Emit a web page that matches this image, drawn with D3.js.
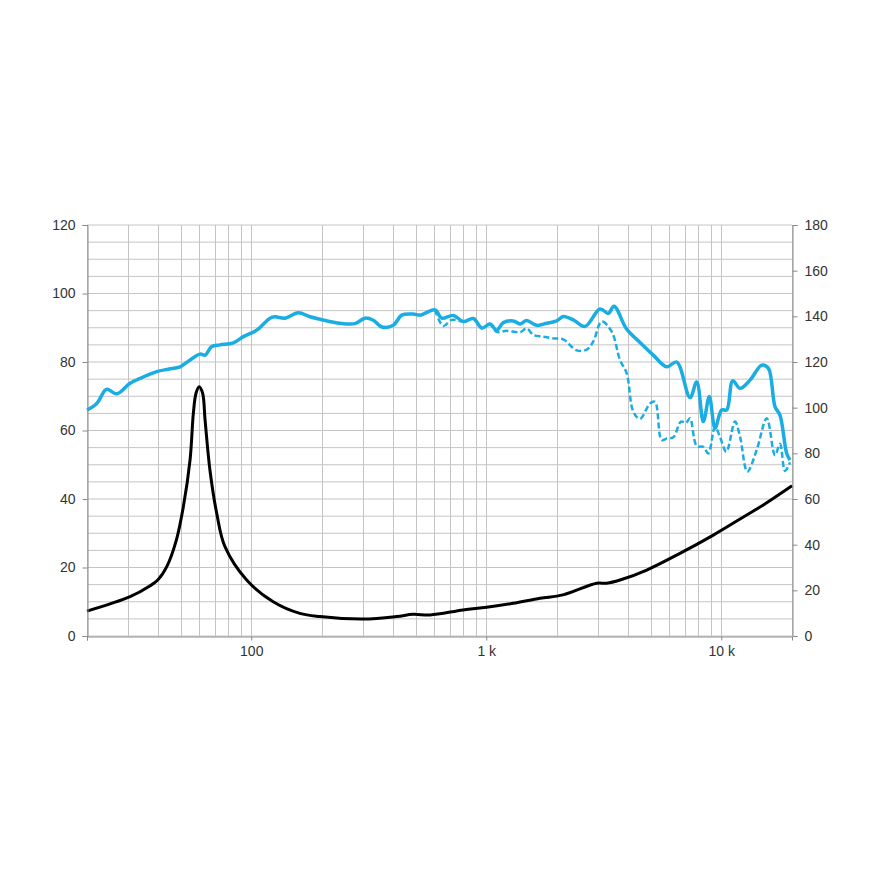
<!DOCTYPE html>
<html>
<head>
<meta charset="utf-8">
<script src="https://cdn.jsdelivr.net/npm/d3@7"></script>
<style>
  html, body { margin: 0; padding: 0; background: #fff; }
  svg { display: block; }
  text { font-family: "Liberation Sans", Arial, sans-serif; font-size: 14px; fill: #333; }
</style>
</head>
<body>
<svg id="chart" width="881" height="881"></svg>
<script>
// ---- Data ----
// SPL on-axis (solid), left axis dB
const splFreq = [20, 22, 23.9, 24.6, 26.8, 30.5, 33.6, 39.6, 44.4, 49.8, 54.9, 60.5, 63.6, 67.9, 73.6, 83.9, 92.5, 105.5, 120.2, 126.2, 139.2, 158.5, 177.8, 196.1, 238.6, 276.4, 304.8, 330.7, 360.1, 402.2, 436.8, 489.3, 522.4, 605.3, 646.3, 724.2, 798.6, 880.8, 959.2, 1037, 1108, 1182, 1304, 1392, 1486, 1639, 1808, 1994, 2128, 2347, 2632, 3048, 3307, 3497, 3959, 4511, 5138, 5861, 6463, 7362, 7862, 8387, 8897, 9406, 10040, 10550, 11190, 12020, 13250, 14870, 15860, 16930, 17780, 18990, 19610];
const splDb = [66.0, 67.9, 71.8, 72.0, 70.7, 73.8, 75.2, 77.2, 77.9, 78.6, 80.6, 82.3, 82.0, 84.5, 85.0, 85.6, 87.4, 89.3, 92.8, 93.2, 92.8, 94.4, 93.2, 92.5, 91.3, 91.2, 92.8, 92.2, 90.2, 90.7, 93.7, 94.0, 93.7, 95.2, 92.8, 93.6, 91.8, 92.7, 89.9, 91.1, 89.3, 91.5, 92.0, 91.1, 92.1, 90.7, 91.3, 92.0, 93.3, 92.3, 90.4, 95.5, 94.2, 96.3, 89.6, 85.7, 82.0, 78.6, 80.0, 69.6, 74.2, 62.6, 69.9, 60.7, 66.0, 66.0, 74.5, 72.3, 74.7, 79.1, 78.2, 67.0, 64.5, 53.3, 51.4];

// SPL off-axis (dashed), left axis dB
const offFreq = [605.3, 656.5, 712.9, 798.6, 880.8, 959.2, 1037, 1108, 1222, 1392, 1486, 1586, 1749, 1929, 2128, 2426, 2676, 2854, 3099, 3418, 3707, 3959, 4224, 4511, 4975, 5224, 5579, 5875, 6250, 6742, 7078, 7362, 7862, 8387, 8810, 9406, 9879, 10510, 11440, 12020, 12910, 14150, 15610, 16930, 17780, 18670, 19610];
const offDb = [95.2, 90.5, 92.3, 91.8, 92.7, 89.9, 91.1, 88.8, 89.1, 88.7, 89.8, 87.9, 87.4, 86.9, 86.6, 83.4, 83.6, 86.0, 91.8, 88.9, 80.6, 76.7, 65.5, 63.4, 67.9, 68.4, 57.2, 57.7, 58.0, 62.6, 62.2, 63.6, 55.5, 55.2, 53.3, 61.1, 58.1, 53.8, 62.6, 58.2, 48.0, 54.3, 63.6, 52.8, 56.1, 48.2, 50.7];

// Impedance, right axis
const impFreq = [20, 30.5, 37, 40, 43.7, 48, 51.4, 54.9, 56.7, 58.2, 60, 62.1, 63.6, 66.7, 71.3, 77.3, 95.6, 124, 161, 196, 299, 416, 488, 577, 796, 1004, 1300, 1694, 2120, 2950, 3254, 3708, 4818, 6672, 9252, 12830, 15100, 20000];
const impOhm = [10.9, 17.2, 21.9, 24.5, 30.4, 42, 56.6, 77.1, 97.5, 106.3, 109.2, 106.3, 94.6, 72.7, 53.7, 39.1, 24.5, 15, 9.9, 8.5, 7.4, 8.5, 9.5, 9.2, 11.4, 12.6, 14.3, 16.5, 18, 23.1, 23.1, 24.5, 28.9, 36.2, 44.2, 53, 57.4, 65.8];

// Axis ticks
const leftTicks = [0, 20, 40, 60, 80, 100, 120];
const rightTicks = [0, 20, 40, 60, 80, 100, 120, 140, 160, 180];
const xTickVals = [100, 1000, 10000];
const xTickLabels = ["100", "1 k", "10 k"];

// ---- Layout ----
const L = 87, R = 792, T = 225, B = 636;
const svg = d3.select("#chart");

const x = d3.scaleLog().domain([20, 20000]).range([L, R]);
const yL = d3.scaleLinear().domain([0, 120]).range([B, T]);
const yR = d3.scaleLinear().domain([0, 180]).range([B, T]);

// Grid
const gridG = svg.append("g");
const hVals = d3.range(0, 121, 5);
gridG.selectAll("line.h").data(hVals).enter().append("line")
  .attr("x1", L).attr("x2", R)
  .attr("y1", d => yL(d)).attr("y2", d => yL(d))
  .attr("stroke", "#c4c4c4").attr("stroke-width", 1);

const vVals = [];
[10, 100, 1000, 10000].forEach(dec => {
  for (let m = 1; m <= 9; m++) {
    const v = dec * m;
    if (v >= 20 && v <= 20000) vVals.push(v);
  }
});
gridG.selectAll("line.v").data(vVals).enter().append("line")
  .attr("x1", d => Math.round(x(d)) + 0.5).attr("x2", d => Math.round(x(d)) + 0.5)
  .attr("y1", T).attr("y2", B)
  .attr("stroke", "#c4c4c4").attr("stroke-width", 1);

// Curves
const blue = "#1aade4";
const line = (yScale) => d3.line()
  .x(d => x(d[0])).y(d => yScale(d[1]))
  .curve(d3.curveCatmullRom.alpha(0.5));

svg.append("path")
  .datum(d3.zip(offFreq, offDb))
  .attr("d", line(yL))
  .attr("fill", "none").attr("stroke", blue)
  .attr("stroke-width", 2.5).attr("stroke-dasharray", "6,3");

svg.append("path")
  .datum(d3.zip(splFreq, splDb))
  .attr("d", line(yL))
  .attr("fill", "none").attr("stroke", blue)
  .attr("stroke-width", 3.5).attr("stroke-linejoin", "round");

svg.append("path")
  .datum(d3.zip(impFreq, impOhm))
  .attr("d", line(yR))
  .attr("fill", "none").attr("stroke", "#000")
  .attr("stroke-width", 3).attr("stroke-linejoin", "round");

// Axes
const axisColor = "#8a8a8a";
const leftAxis = d3.axisLeft(yL).tickValues(leftTicks).tickSize(5).tickPadding(7);
const gl = svg.append("g").attr("transform", `translate(${L + 0.5},0)`).call(leftAxis);
const rightAxis = d3.axisRight(yR).tickValues(rightTicks).tickSize(5).tickPadding(7);
const gr = svg.append("g").attr("transform", `translate(${R + 0.5},0)`).call(rightAxis);
const bottomAxis = d3.axisBottom(x).tickValues([20].concat(xTickVals)).tickSize(4).tickPadding(6)
  .tickFormat(d => { const i = xTickVals.indexOf(d); return i >= 0 ? xTickLabels[i] : ""; });
const gb = svg.append("g").attr("transform", `translate(0,${B + 0.5})`).call(bottomAxis);

[gl, gr, gb].forEach(g => {
  g.select(".domain").attr("stroke", axisColor).attr("stroke-width", 1);
  g.selectAll(".tick line").attr("stroke", axisColor);
  g.selectAll(".tick text").attr("fill", "#333")
    .style("font-family", "'Liberation Sans', Arial, sans-serif").style("font-size", "14px");
});
</script>
</body>
</html>
